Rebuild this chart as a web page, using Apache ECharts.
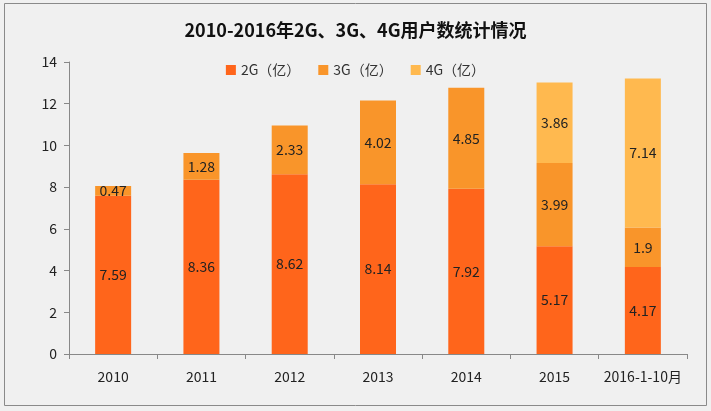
<!DOCTYPE html>
<html><head><meta charset="utf-8">
<script src="https://cdn.jsdelivr.net/npm/echarts@6/dist/echarts.min.js"></script>
<style>html,body{margin:0;padding:0;background:#f0f0f0}#c{width:711px;height:411px}</style>
</head><body><div id="c"></div>
<script>
const categories = ['2010','2011','2012','2013','2014','2015','2016-1-10月'];
const g2 = [7.59, 8.36, 8.62, 8.14, 7.92, 5.17, 4.17];
const g3 = [0.47, 1.28, 2.33, 4.02, 4.85, 3.99, 1.9];
const g4 = [null, null, null, null, null, 3.86, 7.14];
const yTicks = [0, 2, 4, 6, 8, 10, 12, 14];

const font = '"Noto Sans CJK SC", "Noto Sans", sans-serif';
const chart = echarts.init(document.getElementById('c'));
const lbl = {show: true, position: 'inside', color: '#222', fontSize: 14, fontFamily: font};
chart.setOption({
  backgroundColor: '#f0f0f0',
  animation: false,
  textStyle: {fontFamily: font},
  graphic: [{type: 'rect', shape: {x: 4.5, y: 3.5, width: 702, height: 402}, style: {fill: null, stroke: '#8a8a8a', lineWidth: 1}}],
  title: {text: '2010-2016年2G、3G、4G用户数统计情况', left: 'center', top: 16,
    textStyle: {fontSize: 18, fontWeight: 'bold', color: '#111', fontFamily: font}},
  legend: {top: 58, left: 'center', icon: 'rect', itemWidth: 10, itemHeight: 10, itemGap: 18,
    textStyle: {fontSize: 14, color: '#333', fontFamily: font},
    data: ['2G（亿）','3G（亿）','4G（亿）']},
  grid: {left: 69, right: 24, top: 62, bottom: 57, containLabel: false},
  xAxis: {type: 'category', data: categories,
    axisLine: {lineStyle: {color: '#888'}},
    axisTick: {show: true, alignWithLabel: false, length: 5, lineStyle: {color: '#888'}},
    axisLabel: {color: '#222', fontSize: 14, margin: 16, interval: 0, fontFamily: font}},
  yAxis: {type: 'value', min: 0, max: 14, interval: 2,
    axisLine: {show: true, lineStyle: {color: '#888'}},
    axisTick: {show: true, length: 5, lineStyle: {color: '#888'}},
    splitLine: {show: false},
    axisLabel: {color: '#222', fontSize: 14, margin: 12, fontFamily: font}},
  series: [
    {name: '2G（亿）', type: 'bar', stack: 't', data: g2, barWidth: 36, itemStyle: {color: '#FF651B'}, label: lbl},
    {name: '3G（亿）', type: 'bar', stack: 't', data: g3, itemStyle: {color: '#F9952A'}, label: lbl},
    {name: '4G（亿）', type: 'bar', stack: 't', data: g4, itemStyle: {color: '#FFB94F'}, label: lbl}
  ]
});
</script></body></html>
